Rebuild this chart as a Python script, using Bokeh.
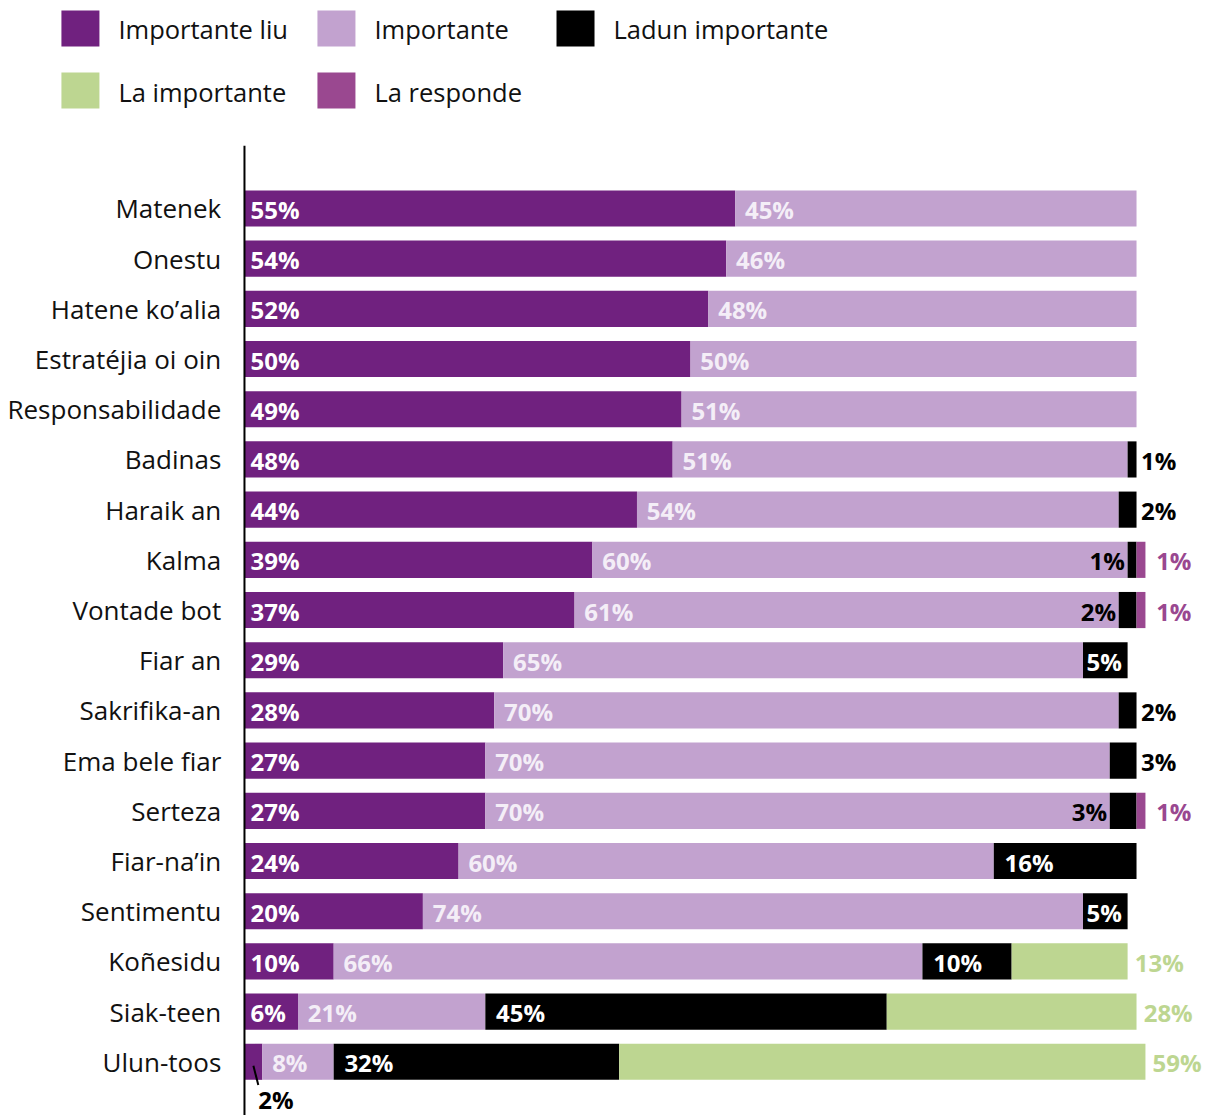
from bokeh.plotting import figure
from bokeh.models import ColumnDataSource, Range1d
from bokeh.core.properties import value
from bokeh.embed import file_html
from bokeh.resources import INLINE

categories = ["Matenek", "Onestu", "Hatene ko\u2019alia", "Estrat\u00e9jia oi oin", "Responsabilidade",
              "Badinas", "Haraik an", "Kalma", "Vontade bot", "Fiar an", "Sakrifika-an",
              "Ema bele fiar", "Serteza", "Fiar-na\u2019in", "Sentimentu", "Ko\u00f1esidu",
              "Siak-teen", "Ulun-toos"]
importante_liu = [55, 54, 52, 50, 49, 48, 44, 39, 37, 29, 28, 27, 27, 24, 20, 10, 6, 2]
importante = [45, 46, 48, 50, 51, 51, 54, 60, 61, 65, 70, 70, 70, 60, 74, 66, 21, 8]
ladun_importante = [0, 0, 0, 0, 0, 1, 2, 1, 2, 5, 2, 3, 3, 16, 5, 10, 45, 32]
la_importante = [0, 0, 0, 0, 0, 0, 0, 0, 0, 0, 0, 0, 0, 0, 0, 13, 28, 59]
la_responde = [0, 0, 0, 0, 0, 0, 0, 1, 1, 0, 0, 0, 1, 0, 0, 0, 0, 0]

series_names = ["Importante liu", "Importante", "Ladun importante", "La importante", "La responde"]
series_vals = [importante_liu, importante, ladun_importante, la_importante, la_responde]
colors = ["#70217F", "#C2A2CF", "#000000", "#BDD691", "#9A4890"]

FONT = "Open Sans"
n = len(categories)
ys = list(range(n))

p = figure(width=1204, height=1115, output_backend="svg", toolbar_location=None,
           x_range=Range1d(-27.35, 107.62), y_range=Range1d(18.07, -4.143),
           x_axis_type=None, y_axis_type=None, min_border=0)
p.outline_line_color = None
p.grid.visible = False
p.background_fill_color = "white"

# stacked bars
lefts = [0.0] * n
seg_left = []
for vals, col in zip(series_vals, colors):
    rights = [l + v for l, v in zip(lefts, vals)]
    seg_left.append(list(lefts))
    src = ColumnDataSource(dict(y=[y for y, v in zip(ys, vals) if v > 0],
                                left=[l for l, v in zip(lefts, vals) if v > 0],
                                right=[r for r, v in zip(rights, vals) if v > 0]))
    p.hbar(y="y", left="left", right="right", height=0.72, source=src,
           fill_color=col, line_color=None)
    lefts = rights
totals = lefts

# axis line
p.segment(x0=[0], y0=[-1.25], x1=[0], y1=[18.3], line_color="black", line_width=2)

# category labels
p.text(x=[-2.6] * n, y=ys, text=categories, text_align="right", text_baseline="middle",
       text_font=value(FONT), text_font_size="26px", text_color="#111111")

# value labels
lx, ly, lt, lc, la = [], [], [], [], []
def add(x, y, t, c, a):
    lx.append(x); ly.append(y + 0.02); lt.append(t); lc.append(c); la.append(a)

for i in range(n):
    v = importante_liu[i]
    if v >= 5:
        add(0.67, i, f"{v}%", "white", "left")
    else:
        mid = v / 2
        p.segment(x0=[mid], y0=[i + 0.08], x1=[mid + 0.55], y1=[i + 0.46], line_color="black", line_width=2)
        add(mid + 0.55, i + 0.74, f"{v}%", "black", "left")
    v = importante[i]
    add(seg_left[1][i] + 1.1, i, f"{v}%", "#F4EEF7", "left")
    v = ladun_importante[i]
    if v > 0:
        if v >= 5:
            off = 0.4 if v <= 5 else 1.2
            add(seg_left[2][i] + off, i, f"{v}%", "white", "left")
        elif la_responde[i] > 0:
            add(seg_left[2][i] - 0.3, i, f"{v}%", "black", "right")
        else:
            add(seg_left[2][i] + v + 0.5, i, f"{v}%", "black", "left")
    v = la_importante[i]
    if v > 0:
        add(totals[i] + 0.8, i, f"{v}%", colors[3], "left")
    v = la_responde[i]
    if v > 0:
        add(totals[i] + 1.2, i, f"{v}%", colors[4], "left")

lsrc = ColumnDataSource(dict(x=lx, y=ly, t=lt, c=lc, a=la))
p.text(x="x", y="y", text="t", text_color="c", text_align="a", text_baseline="middle",
       text_font=value(FONT), text_font_size="24px", text_font_style="bold", source=lsrc)

# legend
leg_sq_x = [-20.52, 8.18, 34.98, -20.52, 8.18]
leg_y = [-3.586, -3.586, -3.586, -2.35, -2.35]
p.rect(x=[x + 2.13 for x in leg_sq_x], y=leg_y, width=4.26, height=0.72,
       fill_color=colors, line_color=None)
p.text(x=[x + 6.39 for x in leg_sq_x], y=[y + 0.02 for y in leg_y], text=series_names,
       text_align="left", text_baseline="middle", text_font=value(FONT),
       text_font_size="25.5px", text_color="#111111")

open("out.html", "w").write(file_html(p, INLINE))
